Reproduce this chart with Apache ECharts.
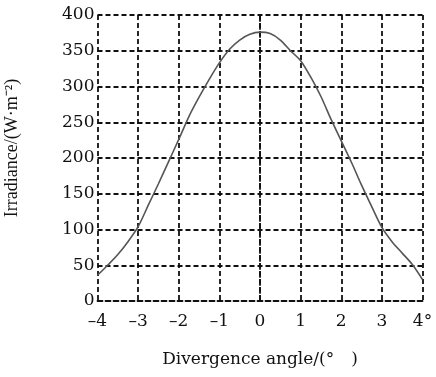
<!DOCTYPE html>
<html>
<head>
<meta charset="utf-8">
<script src="https://cdn.jsdelivr.net/npm/echarts@6/dist/echarts.min.js"></script>
<style>html,body{margin:0;padding:0;background:#fff;}#c{width:436px;height:377px;}</style>
</head>
<body>
<div id="c"></div>
<script>
// Divergence angle (degrees)
const angles = [-4, -3.75, -3.5, -3.25, -3, -2.75, -2.5, -2.25, -2, -1.75, -1.5, -1.25, -1, -0.75, -0.5, -0.25,
  0, 0.25, 0.5, 0.75, 1, 1.25, 1.5, 1.75, 2, 2.25, 2.5, 2.75, 3, 3.25, 3.5, 3.75, 4];
// Irradiance (W·m^-2)
const irradiance = [36, 50, 65, 83, 104, 134, 164, 195, 226, 258, 285, 310, 333, 352, 365, 373,
  376, 374, 365, 350, 336, 313, 286, 254, 224, 194, 162, 132, 103, 83, 67, 51, 30];
const xTicks = ['–4', '–3', '–2', '–1', '0', '1', '2', '3', '4°'];
const yTicks = ['0', '50', '100', '150', '200', '250', '300', '350', '400'];
const xName = 'Divergence angle/(°\u2003)';
const yName = 'Irradiance/(W·m⁻²)';

const chart = echarts.init(document.getElementById('c'), null, {renderer: 'canvas'});
const gridLine = {color: '#111', width: 1.8, type: [5, 3]};
const tickFont = {fontFamily: 'DejaVu Serif', fontSize: 17, color: '#111'};
chart.setOption({
  animation: false,
  backgroundColor: '#fff',
  grid: {left: 97.5, right: 13.5, top: 15, bottom: 76, containLabel: false, outerBoundsMode: 'none'},
  xAxis: {
    type: 'value', min: -4, max: 4, interval: 1,
    name: xName, nameLocation: 'middle', nameGap: 50,
    nameTextStyle: {fontFamily: 'DejaVu Serif', fontSize: 17, color: '#111'},
    axisLine: {show: true, lineStyle: gridLine},
    axisTick: {show: false},
    axisLabel: Object.assign({margin: 12, formatter: (v) => xTicks[Math.round(v) + 4]}, tickFont),
    splitLine: {show: true, lineStyle: gridLine}
  },
  yAxis: {
    type: 'value', min: 0, max: 400, interval: 50,
    name: yName, nameLocation: 'middle', nameGap: 76,
    nameTextStyle: {fontFamily: 'Liberation Serif', fontSize: 18, color: '#111', padding: [0, 0, 0, 20]},
    axisLine: {show: true, lineStyle: gridLine},
    axisTick: {show: false},
    axisLabel: Object.assign({margin: 3, formatter: (v) => yTicks[Math.round(v / 50)]}, tickFont),
    splitLine: {show: true, lineStyle: gridLine}
  },
  series: [{
    type: 'line',
    data: angles.map((a, i) => [a, irradiance[i]]),
    smooth: 0.3,
    showSymbol: false,
    lineStyle: {color: '#555', width: 1.6},
    z: 5
  }]
});
</script>
</body>
</html>
